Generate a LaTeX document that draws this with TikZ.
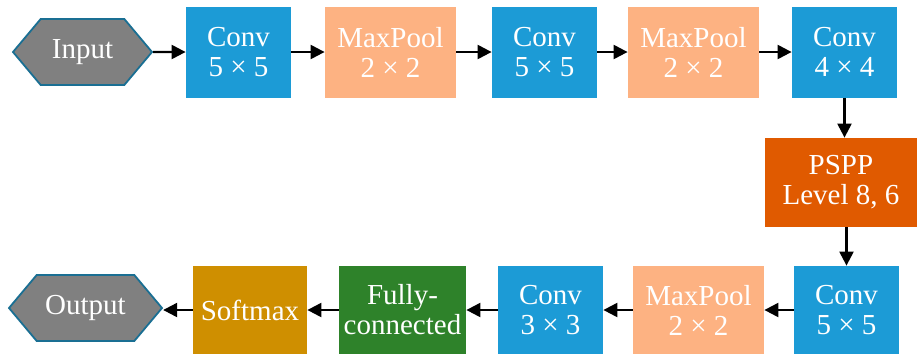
\documentclass[tikz,border=0pt]{standalone}
\usepackage{fontspec}
\setmainfont{Liberation Serif}
\usepackage{tikz}
\usepackage{xcolor}
\usetikzlibrary{arrows.meta,shapes.symbols}

\definecolor{convblue}{RGB}{28,155,214}
\definecolor{poolorange}{RGB}{253,178,130}
\definecolor{sppred}{RGB}{224,90,0}
\definecolor{fcgreen}{RGB}{46,130,42}
\definecolor{smgold}{RGB}{207,143,0}
\definecolor{ioedge}{RGB}{26,111,147}

\tikzset{
  layer/.style={rectangle, text=white, align=center, inner sep=0pt,
    font=\fontsize{14.5}{15}\selectfont, minimum height=45.5pt},
  convbox/.style={layer, fill=convblue, minimum width=52.5pt},
  poolbox/.style={layer, fill=poolorange, minimum width=65.5pt},
  iobox/.style={signal, signal to=east and west, signal pointer angle=100,
    draw=ioedge, line width=0.9pt, text=white,
    font=\fontsize{14.5}{15}\selectfont, inner sep=0pt, minimum height=33pt},
  flow/.style={-{Triangle[length=7pt,width=7pt]}, line width=1.1pt, black}
}

\begin{document}
\begin{tikzpicture}[x=0.5pt,y=-0.5pt]
\useasboundingbox (0,0) rectangle (917,355);
% first row
\node[iobox, fill=black!50, minimum width=69.5pt] (in) at (82.5,52) {Input};
\node[convbox] (conv1) at (238.5,52) {Conv\\5 × 5};
\node[poolbox] (pool1) at (390.5,52) {MaxPool\\2 × 2};
\node[convbox] (conv2) at (544.5,52) {Conv\\5 × 5};
\node[poolbox] (pool2) at (693.5,52) {MaxPool\\2 × 2};
\node[convbox] (conv3) at (844.5,52) {Conv\\4 × 4};
% pyramid pooling
\node[layer, fill=sppred, minimum width=76pt, minimum height=44.5pt] (pspp) at (841,182.5) {PSPP\\Level 8, 6};
% second row
\node[convbox, minimum height=44pt] (conv4) at (846.5,310) {Conv\\5 × 5};
\node[poolbox, minimum height=44pt] (pool3) at (698.5,310) {MaxPool\\2 × 2};
\node[convbox, minimum height=44pt] (conv5) at (550.5,310) {Conv\\3 × 3};
\node[layer, fill=fcgreen, minimum width=63.5pt, minimum height=44pt] (fc) at (402.5,310) {Fully-\\connected};
\node[layer, fill=smgold, minimum width=57pt, minimum height=44pt] (soft) at (250,310) {Softmax};
\node[iobox, fill=black!50, minimum width=76.5pt] (out) at (85.5,308) {Output};

\draw[flow] (in) -- (conv1);
\draw[flow] (conv1) -- (pool1);
\draw[flow] (pool1) -- (conv2);
\draw[flow] (conv2) -- (pool2);
\draw[flow] (pool2) -- (conv3);
\draw[flow] (conv3.south) -- (conv3.south |- pspp.north);
\draw[flow] (pspp.south -| conv4.north) -- (conv4.north);
\draw[flow] (conv4) -- (pool3);
\draw[flow] (pool3) -- (conv5);
\draw[flow] (conv5) -- (fc);
\draw[flow] (fc) -- (soft);
\draw[flow] (soft.west) -- (soft.west -| out.east);
\end{tikzpicture}
\end{document}
